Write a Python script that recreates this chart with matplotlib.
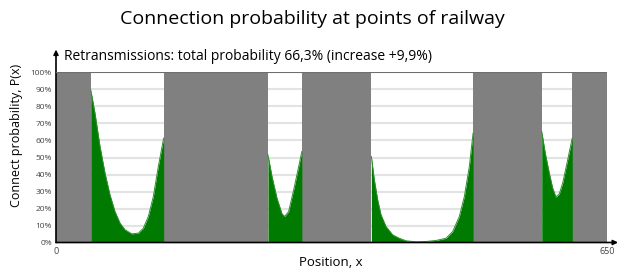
import matplotlib.pyplot as plt
import numpy as np

plt.rcParams['font.family'] = ['Open Sans', 'DejaVu Sans']

# gray regions (no connection), start/end position
gray_start = [0, 127, 290, 492, 609]
gray_end = [41, 250, 372, 573, 650]

# green segments: position and probability (%)
seg1_x = [41, 46, 51.9, 57.8, 63.7, 69.6, 75.5, 81.4, 89.3, 97.1, 103, 108.9, 114.8, 120.7, 127]
seg1_y = [89.8, 76, 56.5, 40.8, 28, 18.2, 11.4, 7.5, 5.1, 5.5, 8.4, 15.3, 27, 44.7, 61.4]
seg2_x = [250, 254.8, 260.7, 266.6, 269.7, 274.4, 280.4, 286.3, 290]
seg2_y = [51.6, 38.8, 26, 16.9, 15.3, 18.2, 31, 44.7, 53.5]
seg3_x = [372, 375.5, 379.5, 383.4, 389.3, 397.2, 405, 412.9, 424.7, 436.5, 448.3, 460.1, 468, 475.8,
          481.7, 487.6, 492]
seg3_y = [50.6, 36.9, 25, 16.3, 9.4, 4.5, 2.5, 1, 0.4, 0.6, 1.2, 2.5, 6.5, 15.3, 27, 44.7, 64.3]
seg4_x = [573, 577.2, 581.9, 585.9, 589.8, 593.7, 597.7, 603.6, 609]
seg4_y = [65.3, 52.5, 40.8, 32, 26.7, 28.6, 34.9, 48.6, 61.4]

yticks = list(range(0, 101, 10))
ylabels = [str(v) + '%' for v in yticks]

fig = plt.figure(figsize=(6.2, 2.71), dpi=100)
ax = fig.add_axes([56/620, 28.5/271, 551/620, 170/271])

for v in yticks[1:-1]:
    ax.axhline(v, color='#e3e3e3', lw=1.5, zorder=0)

for s, e in zip(gray_start, gray_end):
    ax.axvspan(s, e, color='#808080', lw=0, zorder=2)

for sx, sy in [(seg1_x, seg1_y), (seg2_x, seg2_y), (seg3_x, seg3_y), (seg4_x, seg4_y)]:
    ax.fill_between(sx, 0, sy, color='#007a00', lw=0, zorder=3)
    ax.plot(sx, sy, color='#2e8f2e', lw=0.7, zorder=3)

ax.axhline(100, color='#6e6e6e', lw=1.5, zorder=4)

ax.set_xlim(0, 650)
ax.set_ylim(0, 100)
for sp in ax.spines.values():
    sp.set_visible(False)

# arrow axes
ax.annotate('', xy=(0, 113.5), xytext=(0, 0), xycoords='data', annotation_clip=False,
            arrowprops=dict(arrowstyle='-|>', color='black', lw=1.2, mutation_scale=7, shrinkA=0, shrinkB=0))
ax.annotate('', xy=(663, 0), xytext=(0, 0), xycoords='data', annotation_clip=False,
            arrowprops=dict(arrowstyle='-|>', color='black', lw=1.2, mutation_scale=7, shrinkA=0, shrinkB=0))

ax.set_yticks(yticks)
ax.set_yticklabels(ylabels, fontsize=6, color='#444444')
ax.set_xticks([0, 650])
ax.set_xticklabels(['0', '650'], fontsize=6.5, color='#444444')
ax.tick_params(length=0, pad=3)

fig.text(17/620, 136/271, 'Connect probability, P(x)', fontsize=9, rotation=90, ha='center', va='center')
fig.text(331/620, 9/271, 'Position, x', fontsize=9.5, ha='center', va='center')

fig.text(312/620, 252/271, 'Connection probability at points of railway', fontsize=14, ha='center', va='center')
fig.text(64/620, 214/271, 'Retransmissions: total probability 66,3% (increase +9,9%)', fontsize=10,
         ha='left', va='center')

fig.savefig('out.png', dpi=100)
